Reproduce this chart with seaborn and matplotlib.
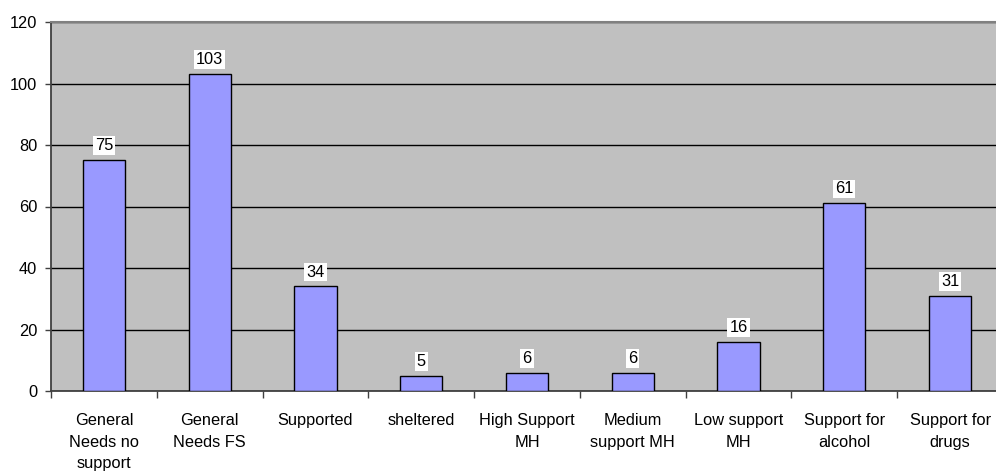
import matplotlib
matplotlib.use("Agg")
import matplotlib.pyplot as plt
from matplotlib.ticker import FixedLocator, NullFormatter
import seaborn as sns
import pandas as pd

categories = [
    "General\nNeeds no\nsupport",
    "General\nNeeds FS",
    "Supported",
    "sheltered",
    "High Support\nMH",
    "Medium\nsupport MH",
    "Low support\nMH",
    "Support for\nalcohol",
    "Support for\ndrugs",
]
values = [75, 103, 34, 5, 6, 6, 16, 61, 31]
y_ticks = [0, 20, 40, 60, 80, 100, 120]

sns.set_theme(style="white")
plt.rcParams["font.family"] = ["Liberation Sans", "DejaVu Sans"]
fs = 11.8

df = pd.DataFrame({"category": categories, "count": values})

fig = plt.figure(figsize=(9.96, 4.76), dpi=100)
ax = fig.add_axes([51 / 996, 85 / 476, 952 / 996, 369 / 476])
ax.set_facecolor("#c0c0c0")

sns.barplot(data=df, x="category", y="count", color="#9999ff", saturation=1,
            edgecolor="black", linewidth=1.0, width=0.4, ax=ax, zorder=3)

ax.set_ylim(0, 120)
ax.set_xlim(-0.5, len(categories) - 0.5)
ax.set_yticks(y_ticks)
ax.yaxis.grid(True, color="black", linewidth=1.0, zorder=1)
ax.set_axisbelow(True)
ax.set_xlabel("")
ax.set_ylabel("")

# category separators as minor ticks
ax.xaxis.set_minor_locator(FixedLocator([i - 0.5 for i in range(len(categories) + 1)]))
ax.xaxis.set_minor_formatter(NullFormatter())
ax.tick_params(axis="x", which="major", length=0, pad=16, labelsize=fs, colors="black")
ax.tick_params(axis="x", which="minor", length=5, width=1.0, color="#404040", direction="out", bottom=True)
ax.tick_params(axis="y", length=4, width=1.0, color="#404040", direction="out", left=True,
               pad=6, labelsize=fs, labelcolor="black")
for lbl in ax.get_xticklabels():
    lbl.set_ha("center")
    lbl.set_va("top")
    lbl.set_multialignment("center")
    lbl.set_linespacing(1.55)

for side in ("left", "bottom"):
    ax.spines[side].set_color("#404040")
    ax.spines[side].set_linewidth(1.3)
ax.spines["top"].set_color("#808080")
ax.spines["top"].set_linewidth(1.5)
ax.spines["right"].set_visible(False)

for i, v in enumerate(values):
    ax.annotate(str(v), xy=(i, v), xytext=(0, 5), textcoords="offset points",
                ha="center", va="bottom", fontsize=fs, color="black", zorder=5,
                bbox=dict(boxstyle="square,pad=0.12", facecolor="white", edgecolor="none"))

fig.savefig("out.png", dpi=100, facecolor="white")
